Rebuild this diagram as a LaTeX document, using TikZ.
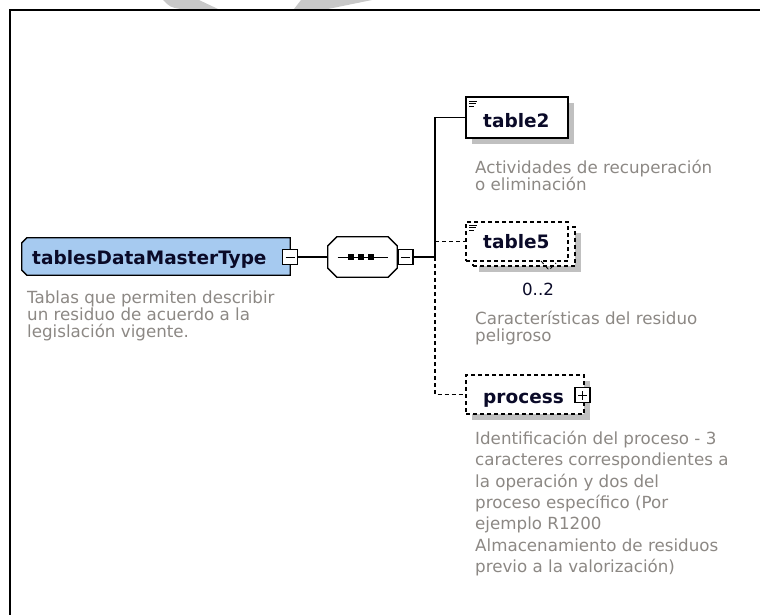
\documentclass[tikz,border=0pt]{standalone}
\usepackage{fontspec}
\setmainfont{DejaVu Sans}
\usetikzlibrary{shadows}
\definecolor{mainblue}{RGB}{166,202,240}
\definecolor{shadowgray}{RGB}{192,192,192}
\definecolor{descgray}{RGB}{140,136,132}
\definecolor{lblcol}{RGB}{10,10,40}
\definecolor{wmgray}{RGB}{200,200,200}
\begin{document}
\begin{tikzpicture}[x=1pt,y=-1pt,
  shad/.style={drop shadow={shadow xshift=6pt,shadow yshift=-6pt,fill=shadowgray,opacity=1}},
  boxln/.style={line width=1.3pt},
  dsh/.style={dash pattern=on 4pt off 3pt},
  conn/.style={line width=1.1pt},
  anch/.style={draw=none,inner sep=0pt},
  pmbox/.style={draw,fill=white,line width=1.1pt,minimum size=15pt,inner sep=0pt},
  elem/.style={draw,fill=white,boxln,inner sep=0pt},
  lbl/.style={font=\fontsize{18.5}{20}\selectfont\bfseries,text=lblcol,anchor=base west,inner sep=0pt},
  desc/.style={font=\fontsize{16.7}{17}\selectfont,text=descgray,align=left,anchor=north west,inner sep=0pt}]
\useasboundingbox (0,0) rectangle (760,615);
% watermark
\fill[wmgray] (163,0) -- (199,0) -- (218,9) -- (180,9) .. controls (170,7) .. (163,0) -- cycle;
\fill[wmgray] (294,9) -- (328,9) -- (372,0) -- (301,0) -- cycle;
% frame
\draw[line width=2pt] (10,616) -- (10,10) -- (761,10);
% main complex type
\node[anch,minimum width=268pt,minimum height=37pt] (main) at (156,256.5) {};
\fill[shadowgray,shift={(6,6)}] ([shift={(0,5)}]main.north west) -- ([shift={(5,0)}]main.north west)
   -- (main.north east) -- (main.south east) -- ([shift={(5,0)}]main.south west)
   -- ([shift={(0,-5)}]main.south west) -- cycle;
\draw[boxln,fill=mainblue] ([shift={(0,5)}]main.north west) -- ([shift={(5,0)}]main.north west)
   -- (main.north east) -- (main.south east) -- ([shift={(5,0)}]main.south west)
   -- ([shift={(0,-5)}]main.south west) -- cycle;
\node[lbl] (mainlbl) at (32,264) {tablesDataMasterType};
\node[pmbox] (m1) at (290,257) {};
\draw[line width=1pt] ([xshift=-4.5pt]m1.center) -- ([xshift=4.5pt]m1.center);
% sequence compositor
\node[anch,minimum width=69pt,minimum height=40pt] (seq) at (362.5,257) {};
\fill[shadowgray,shift={(6,6)}] ([shift={(0,9)}]seq.north west) -- ([shift={(9,0)}]seq.north west)
   -- ([shift={(-9,0)}]seq.north east) -- ([shift={(0,9)}]seq.north east)
   -- ([shift={(0,-9)}]seq.south east) -- ([shift={(-9,0)}]seq.south east)
   -- ([shift={(9,0)}]seq.south west) -- ([shift={(0,-9)}]seq.south west) -- cycle;
\draw[boxln,fill=white] ([shift={(0,9)}]seq.north west) -- ([shift={(9,0)}]seq.north west)
   -- ([shift={(-9,0)}]seq.north east) -- ([shift={(0,9)}]seq.north east)
   -- ([shift={(0,-9)}]seq.south east) -- ([shift={(-9,0)}]seq.south east)
   -- ([shift={(9,0)}]seq.south west) -- ([shift={(0,-9)}]seq.south west) -- cycle;
\draw[line width=1pt] ([xshift=-25pt]seq.center) -- ([xshift=25pt]seq.center);
\foreach \cx in {-11.5,-1.5,8.5} \fill ([shift={(\cx-3.3,-3.3)}]seq.center) rectangle ([shift={(\cx+3.3,3.3)}]seq.center);
\node[pmbox] (m2) at (405.5,257) {};
\draw[line width=1pt] ([xshift=-4.5pt]m2.center) -- ([xshift=4.5pt]m2.center);
\draw[conn] (m1.east) -- (seq.west);
% branch
\coordinate (br) at (435,257);
% table2
\node[elem,shad,minimum width=102pt,minimum height=41pt] (t2) at (517,117.5) {};
\draw[line width=0.9pt] (469,101) -- (477,101) (469,103.5) -- (476,103.5) (469,106) -- (474,106);
\node[lbl] (t2lbl) at (483,128) {table2};
\node[desc] (t2d) at (475,160) {Actividades de recuperación\\o eliminación};
% table5
\node[elem,dsh,shad,minimum width=102pt,minimum height=39pt] (t5b) at (524,246.5) {};
\node[elem,dsh,minimum width=102pt,minimum height=39pt] (t5) at (517,241.5) {};
\draw[line width=0.9pt] (469,225) -- (477,225) (469,227.5) -- (476,227.5) (469,230) -- (474,230);
\node[lbl] (t5lbl) at (483,248) {table5};
\draw[line width=0.8pt,dsh] (541,261) -- (549,270) -- (556,263);
\node[font=\fontsize{16.7}{17}\selectfont,text=lblcol,anchor=base,inner sep=0pt] (occ) at (538,295) {0..2};
\node[desc] (t5d) at (475,311) {Características del residuo\\peligroso};
% process
\node[elem,dsh,shad,minimum width=118pt,minimum height=39pt] (pr) at (525,394.5) {};
\node[lbl] (prlbl) at (483,403) {process};
\node[pmbox] (p1) at (582.5,395) {};
\draw[line width=1pt] ([xshift=-4.5pt]p1.center) -- ([xshift=4.5pt]p1.center)
      ([yshift=-4.5pt]p1.center) -- ([yshift=4.5pt]p1.center);
\node[desc,font=\fontsize{16.7}{21.3}\selectfont] (prd) at (475,431) {Identificación del proceso - 3\\caracteres correspondientes a\\la operación y dos del\\proceso específico (Por\\ejemplo R1200\\Almacenamiento de residuos\\previo a la valorización)};
\node[desc] (maind) at (27,291) {Tablas que permiten describir\\un residuo de acuerdo a la\\legislación vigente.};
% connectors
\draw[conn] (m2.east) -- (br) |- (t2.west);
\draw[conn,dsh] (t5.west -| br) -- (t5.west);
\draw[conn,dsh] (br) |- (pr.west);
\end{tikzpicture}
\end{document}
